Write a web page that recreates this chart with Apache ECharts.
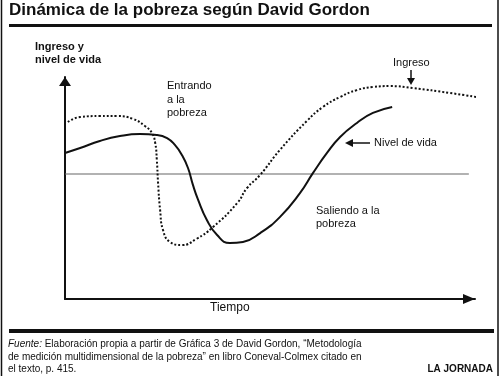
<!DOCTYPE html>
<html>
<head>
<meta charset="utf-8">
<script src="https://cdn.jsdelivr.net/npm/echarts@6/dist/echarts.min.js"></script>
<style>
html, body { margin: 0; padding: 0; background: #fff; }
#chart { width: 500px; height: 376px; }
</style>
</head>
<body>
<div id="chart"></div>
<script>
// valores (escala arbitraria 0-100)
var tiempoIngreso = [0.7, 3.7, 8.5, 12.7, 16.6, 19.5, 21.2, 22.0, 22.4, 22.7, 23.2, 23.9, 25.6, 28.5, 32.0, 36.1, 42.0, 44.4, 47.6, 52.4, 59.0, 62.9, 67.1, 71.2, 75.1, 79.3, 84.9, 93.9, 102.0];
var ingreso = [79.7, 82.0, 82.4, 82.4, 81.1, 77.9, 74.8, 70.3, 62.6, 52.3, 40.1, 31.1, 25.7, 24.3, 27.0, 32.4, 43.2, 50.0, 55.9, 67.1, 80.2, 86.5, 91.0, 94.1, 95.5, 95.9, 95.0, 92.8, 90.5];
var tiempoNivel = [0, 3.7, 8.5, 13.4, 18.3, 22.4, 24.9, 26.8, 28.5, 30.0, 31.2, 32.4, 34.6, 37.1, 40.2, 43.4, 47.6, 52.4, 57.3, 60.5, 63.9, 67.1, 71.2, 75.1, 79.8];
var nivelVida = [65.8, 68.0, 71.2, 73.4, 74.3, 73.9, 72.5, 69.4, 64.9, 59.0, 51.4, 45.0, 35.6, 28.8, 25.2, 25.7, 29.7, 36.9, 47.7, 56.8, 65.8, 73.0, 79.3, 83.8, 86.5];
var umbralX = [0, 98.5];
var umbral = [56.3, 56.3];

function pares(xs, ys) {
  return xs.map(function (x, i) { return [x, ys[i]]; });
}

var FONT = '"Liberation Sans", Arial, sans-serif';
var NEGRO = '#111';

function texto(x, y, str, extra) {
  var st = { text: str, fill: NEGRO, font: '11px ' + FONT, textVerticalAlign: 'middle' };
  for (var k in (extra || {})) st[k] = extra[k];
  return { type: 'text', x: x, y: y, style: st, silent: true };
}

var chart = echarts.init(document.getElementById('chart'));
chart.setOption({
  animation: false,
  backgroundColor: '#fff',
  grid: { left: 65, right: 25, top: 77, bottom: 77 },
  xAxis: {
    type: 'value', min: 0, max: 100,
    axisLine: {
      show: true, symbol: ['none', 'triangle'], symbolSize: [10, 12], symbolOffset: [0, -6],
      lineStyle: { color: NEGRO, width: 2 }
    },
    axisTick: { show: false }, axisLabel: { show: false }, splitLine: { show: false }
  },
  yAxis: {
    type: 'value', min: 0, max: 100,
    axisLine: {
      show: true, symbol: ['none', 'triangle'], symbolSize: [12, 9], symbolOffset: [0, -4.5],
      lineStyle: { color: NEGRO, width: 2 }
    },
    axisTick: { show: false }, axisLabel: { show: false }, splitLine: { show: false }
  },
  series: [
    {
      name: 'Umbral', type: 'line', data: pares(umbralX, umbral),
      showSymbol: false, lineStyle: { color: '#666', width: 1.2 }
    },
    {
      name: 'Ingreso', type: 'line', data: pares(tiempoIngreso, ingreso),
      smooth: 0.5, showSymbol: false, clip: false,
      lineStyle: { color: NEGRO, width: 2, type: [2, 2] }
    },
    {
      name: 'Nivel de vida', type: 'line', data: pares(tiempoNivel, nivelVida),
      smooth: 0.5, showSymbol: false, clip: false,
      lineStyle: { color: NEGRO, width: 2 }
    }
  ],
  graphic: [
    // marco
    { type: 'line', shape: { x1: 1.5, y1: 0, x2: 1.5, y2: 376 }, style: { stroke: NEGRO, lineWidth: 1.5 } },
    { type: 'line', shape: { x1: 498, y1: 0, x2: 498, y2: 376 }, style: { stroke: NEGRO, lineWidth: 1.5 } },
    { type: 'rect', shape: { x: 9, y: 24, width: 483, height: 3 }, style: { fill: NEGRO } },
    { type: 'rect', shape: { x: 9, y: 329, width: 485, height: 4 }, style: { fill: NEGRO } },
    texto(9, 10, 'Dinámica de la pobreza según David Gordon', { font: 'bold 17px ' + FONT }),
    texto(35, 47, 'Ingreso y', { font: 'bold 11px ' + FONT }),
    texto(35, 60, 'nivel de vida', { font: 'bold 11px ' + FONT }),
    texto(167, 86, 'Entrando'),
    texto(167, 100, 'a la'),
    texto(167, 113, 'pobreza'),
    texto(393, 63, 'Ingreso'),
    { type: 'line', shape: { x1: 411, y1: 70, x2: 411, y2: 79 }, style: { stroke: NEGRO, lineWidth: 1.5 } },
    { type: 'polygon', shape: { points: [[407, 78], [415, 78], [411, 85]] }, style: { fill: NEGRO } },
    texto(374, 143, 'Nivel de vida'),
    { type: 'line', shape: { x1: 351, y1: 143, x2: 370, y2: 143 }, style: { stroke: NEGRO, lineWidth: 1.5 } },
    { type: 'polygon', shape: { points: [[345, 143], [353, 139], [353, 147]] }, style: { fill: NEGRO } },
    texto(316, 211, 'Saliendo a la'),
    texto(316, 224, 'pobreza'),
    texto(210, 308, 'Tiempo', { font: '12px ' + FONT }),
    {
      type: 'text', x: 8, y: 344, silent: true,
      style: {
        text: '{i|Fuente:} Elaboración propia a partir de Gráfica 3 de David Gordon, “Metodología',
        fill: NEGRO, font: '10px ' + FONT, textVerticalAlign: 'middle',
        rich: { i: { fontStyle: 'italic', fontSize: 10, fontFamily: FONT, fill: NEGRO } }
      }
    },
    texto(8, 357, 'de medición multidimensional de la pobreza” en libro Coneval-Colmex citado en', { font: '10px ' + FONT }),
    texto(8, 369, 'el texto, p. 415.', { font: '10px ' + FONT }),
    texto(493, 369, 'LA JORNADA', { font: 'bold 10px ' + FONT, textAlign: 'right' })
  ]
});
</script>
</body>
</html>
